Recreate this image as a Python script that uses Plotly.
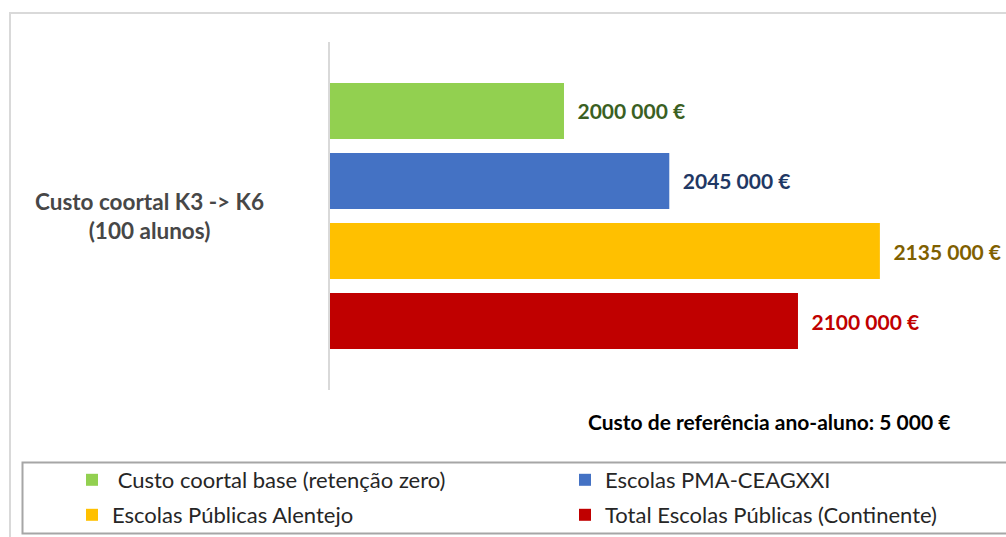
import plotly.graph_objects as go

# ---- data -------------------------------------------------------------
category = "Custo coortal K3 -> K6<br>(100 alunos)"
series_names = [
    " Custo coortal base (retenção zero)",
    "Escolas PMA-CEAGXXI",
    "Escolas Públicas Alentejo",
    "Total Escolas Públicas (Continente)",
]
values = [2000000, 2045000, 2135000, 2100000]
reference_note = "Custo de referência ano-aluno: 5 000 €"

# ---- styling ----------------------------------------------------------
bar_colors = ["#92D050", "#4472C4", "#FFC000", "#C00000"]
label_colors = ["#3A5F23", "#1F3864", "#7F6000", "#C00000"]
legend_ids = ["legend", "legend2", "legend3", "legend4"]
# legend entry anchor (left px, centre-row px) for each series
legend_pos = [(72, 480), (565, 480), (72, 515), (565, 515)]
x_range = [1900000, 2188900]

FONT = "Lato, 'Open Sans', sans-serif"
W, H = 1006, 537
ML, MR, MT, MB = 330, 0, 42, 147
PW, PH = W - ML - MR, H - MT - MB


def px_x(x):
    """pixel column -> paper x"""
    return (x - ML) / PW


def px_y(y):
    """pixel row -> paper y"""
    return (H - MB - y) / PH


def euro(v):
    # e.g. 2045000 -> "2045 000 €"
    return f"{v // 1000} {v % 1000:03d} €"


fig = go.Figure()
for name, v, bc, lc, lg in zip(series_names, values, bar_colors, label_colors, legend_ids):
    fig.add_trace(go.Bar(
        y=[category], x=[v], name=name, orientation="h",
        marker=dict(color=bc, line=dict(width=0)),
        text=["\u2002" + euro(v)], textposition="outside",
        textfont=dict(family=FONT, size=21, color=lc, weight="bold"),
        constraintext="none", cliponaxis=False,
        legend=lg, hoverinfo="skip",
    ))

legend_common = dict(
    orientation="h", xanchor="left", yanchor="middle",
    font=dict(family=FONT, size=22, color="#262626"),
    bgcolor="rgba(0,0,0,0)", borderwidth=0, itemclick=False,
)
legends = {
    lg: dict(x=px_x(lx), y=px_y(ly), **legend_common)
    for lg, (lx, ly) in zip(legend_ids, legend_pos)
}

fig.update_layout(
    width=W, height=H,
    margin=dict(l=ML, r=MR, t=MT, b=MB, pad=0, autoexpand=False),
    paper_bgcolor="white", plot_bgcolor="white",
    barmode="group", bargap=0.195, bargroupgap=0.2,
    showlegend=True,
    **legends,
    xaxis=dict(range=x_range, visible=False, fixedrange=True),
    yaxis=dict(
        type="category", autorange="reversed",
        showticklabels=False, ticks="", showgrid=False, zeroline=False,
        showline=True, linecolor="#D9D9D9", linewidth=2, fixedrange=True,
    ),
    annotations=[
        dict(x=px_x(150), y=category, xref="paper", yref="y", text=category,
             showarrow=False, xanchor="center", yanchor="middle", align="center",
             font=dict(family=FONT, size=22.5, color="#474747", weight="bold")),
        dict(x=px_x(769), y=px_y(421), xref="paper", yref="paper", text=reference_note,
             showarrow=False, xanchor="center", yanchor="middle",
             font=dict(family=FONT, size=21, color="#000000", weight="bold")),
    ],
    shapes=[
        # chart frame
        dict(type="rect", xref="paper", yref="paper",
             x0=px_x(10), x1=px_x(1030), y0=px_y(560), y1=px_y(13),
             line=dict(color="#D9D9D9", width=2), fillcolor="rgba(0,0,0,0)", layer="below"),
        # legend frame
        dict(type="rect", xref="paper", yref="paper",
             x0=px_x(22.5), x1=px_x(1030), y0=px_y(533.5), y1=px_y(462.5),
             line=dict(color="#A6A6A6", width=2), fillcolor="rgba(0,0,0,0)", layer="below"),
    ],
)

fig.write_html("out.html")
